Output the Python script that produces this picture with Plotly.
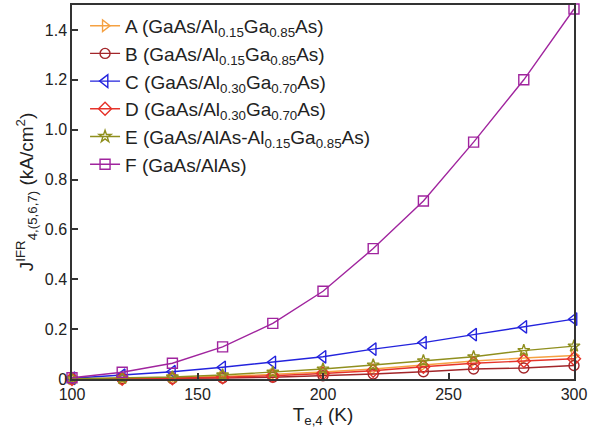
import plotly.graph_objects as go

T = [100, 120, 140, 160, 180, 200, 220, 240, 260, 280, 300]

A = [0.0005, 0.002, 0.005, 0.010, 0.018, 0.028, 0.040, 0.056, 0.072, 0.084, 0.094]
B = [0.0003, 0.001, 0.002, 0.004, 0.007, 0.013, 0.020, 0.029, 0.040, 0.044, 0.054]
C = [0.003, 0.015, 0.029, 0.047, 0.067, 0.089, 0.120, 0.146, 0.178, 0.209, 0.240]
D = [0.0004, 0.001, 0.003, 0.007, 0.013, 0.022, 0.033, 0.049, 0.063, 0.072, 0.081]
E = [0.001, 0.003, 0.008, 0.016, 0.027, 0.040, 0.056, 0.073, 0.089, 0.114, 0.132]
F = [0.005, 0.027, 0.063, 0.129, 0.223, 0.352, 0.523, 0.714, 0.950, 1.200, 1.484]

names = [
    "A (GaAs/Al<sub>0.15</sub>Ga<sub>0.85</sub>As)",
    "B (GaAs/Al<sub>0.15</sub>Ga<sub>0.85</sub>As)",
    "C (GaAs/Al<sub>0.30</sub>Ga<sub>0.70</sub>As)",
    "D (GaAs/Al<sub>0.30</sub>Ga<sub>0.70</sub>As)",
    "E (GaAs/AlAs-Al<sub>0.15</sub>Ga<sub>0.85</sub>As)",
    "F (GaAs/AlAs)",
]
series = [A, B, C, D, E, F]
colors = ["#F5A142", "#A3262A", "#2323DD", "#E6332A", "#8F8F1E", "#A0249E"]
symbols = ["triangle-right-open", "circle-open", "triangle-left-open",
           "diamond-open", "star-open", "square-open"]
sizes = [10, 10, 11, 10, 9, 10]

y_tickvals = [0, 0.2, 0.4, 0.6, 0.8, 1.0, 1.2, 1.4]
y_ticktext = ["0", "0.2", "0.4", "0.6", "0.8", "1.0", "1.2", "1.4"]
x_tickvals = [100, 150, 200, 250, 300]

FONT = "Liberation Sans, Arial, sans-serif"

fig = go.Figure()
for n, s, c, m, sz in zip(names, series, colors, symbols, sizes):
    fig.add_trace(go.Scatter(
        x=T, y=s, name=n, mode="lines+markers",
        line=dict(color=c, width=1.4),
        marker=dict(symbol=m, size=sz, color=c, line=dict(color=c, width=1.4)),
        cliponaxis=False,
    ))

axis_common = dict(
    showline=True, linecolor="#333333", linewidth=1.5, mirror=True,
    ticks="inside", ticklen=6, tickwidth=1.5, tickcolor="#333333",
    showgrid=False, zeroline=False, ticklabeloverflow="allow",
    tickfont=dict(family=FONT, size=16, color="#222222"),
)

fig.update_xaxes(range=[100, 300], tickvals=x_tickvals,
                 title=dict(text="T<sub>e,4</sub> (K)", standoff=6,
                            font=dict(family=FONT, size=19, color="#222222")),
                 **axis_common)
fig.update_yaxes(range=[0, 1.5], tickvals=y_tickvals, ticktext=y_ticktext,
                 title=dict(text="J<sup>IFR</sup><sub>4,(5,6,7)</sub> (kA/cm<sup>2</sup>)", standoff=6,
                            font=dict(family=FONT, size=19, color="#222222")),
                 **axis_common)

fig.update_layout(
    width=590, height=439,
    margin=dict(l=72, r=13, t=3, b=60),
    paper_bgcolor="white", plot_bgcolor="white",
    showlegend=True,
    legend=dict(x=0.026, y=0.995, xanchor="left", yanchor="top",
                bgcolor="rgba(0,0,0,0)",
                font=dict(family=FONT, size=19, color="#222222"),
                tracegroupgap=0, itemwidth=30),
    font=dict(family=FONT, color="#222222"),
)

fig.write_html("out.html")
